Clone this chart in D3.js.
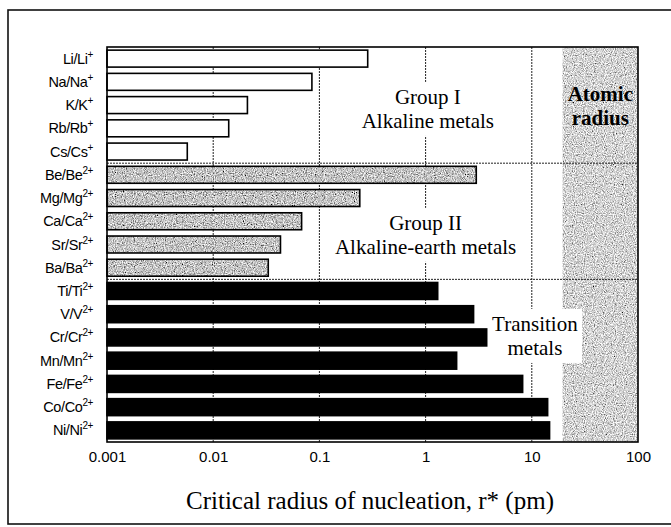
<!DOCTYPE html>
<html><head><meta charset="utf-8">
<script src="https://cdn.jsdelivr.net/npm/d3@7"></script>
<style>html,body{margin:0;padding:0;background:#fff;}svg{display:block;}</style>
</head><body>
<script>
const categories = ["Li/Li","Na/Na","K/K","Rb/Rb","Cs/Cs","Be/Be","Mg/Mg","Ca/Ca","Sr/Sr","Ba/Ba","Ti/Ti","V/V","Cr/Cr","Mn/Mn","Fe/Fe","Co/Co","Ni/Ni"];
const charges = ["+","+","+","+","+","2+","2+","2+","2+","2+","2+","2+","2+","2+","2+","2+","2+"];
const values = [0.285,0.085,0.021,0.014,0.0057,3.0,0.24,0.068,0.043,0.033,1.30,2.83,3.76,1.96,8.2,14.1,14.7];
const groups = ["I","I","I","I","I","II","II","II","II","II","T","T","T","T","T","T","T"];
const tickValues = [0.001,0.01,0.1,1,10,100];
const tickLabels = ["0.001","0.01","0.1","1","10","100"];
const atomicRange = [19.5,100];
const groupAnnotations = [
  {lines:["Group I","Alkaline metals"], x:1.05, band:2.45},
  {lines:["Group II","Alkaline-earth metals"], x:1.0, band:7.87},
  {lines:["Transition","metals"], x:10.7, band:12.22}
];
const atomicLabel = ["Atomic","radius"];
const xTitle = "Critical radius of nucleation, r* (pm)";

const W=671,H=527;
const svg=d3.select("body").append("svg").attr("width",W).attr("height",H);
const defs=svg.append("defs");
function noiseFilter(id,gain,offset,freq){
  const f=defs.append("filter").attr("id",id).attr("x",0).attr("y",0).attr("width",1).attr("height",1);
  f.append("feTurbulence").attr("type","fractalNoise").attr("baseFrequency",freq).attr("numOctaves",2).attr("seed",3).attr("result","n");
  f.append("feColorMatrix").attr("in","n").attr("type","matrix")
    .attr("values",`${gain} 0 0 0 ${offset}  ${gain} 0 0 0 ${offset}  ${gain} 0 0 0 ${offset}  0 0 0 0 1`).attr("result","g");
  f.append("feComposite").attr("in","g").attr("in2","SourceGraphic").attr("operator","in");
}
noiseFilter("nz1",1.7,-0.2,0.9);
noiseFilter("nz2",1.7,-0.3,0.9);

const L=107,R=638,T=47,B=442;
const x=d3.scaleLog().domain([0.001,100]).range([L,R]);
const y=d3.scaleBand().domain(categories).range([T,B]).paddingInner(0.27).paddingOuter(0.135);
const yb=d3.scaleBand().domain(categories).range([T,B]);

// outer frame
svg.append("rect").attr("x",8).attr("y",10).attr("width",700).attr("height",514)
  .attr("fill","none").attr("stroke","#111").attr("stroke-width",1.6);

// atomic radius region
svg.append("rect").attr("x",x(atomicRange[0])).attr("y",T).attr("width",x(atomicRange[1])-x(atomicRange[0])).attr("height",B-T)
  .attr("fill","#b4b4b4").attr("filter","url(#nz1)");

// gridlines
svg.append("g").selectAll("line").data(tickValues.slice(1,-1)).join("line")
  .attr("x1",d=>x(d)).attr("x2",d=>x(d)).attr("y1",T).attr("y2",B)
  .attr("stroke","#222").attr("stroke-width",1).attr("stroke-dasharray","2,1");

// group separators
[5,10].forEach(i=>{
  const yy=yb(categories[i]);
  svg.append("line").attr("x1",L).attr("x2",R).attr("y1",yy).attr("y2",yy)
    .attr("stroke","#222").attr("stroke-width",1).attr("stroke-dasharray","2,1");
});

// annotations: white box behind, drawn under bars
const boxLayer=svg.append("g");
const barLayer=svg.append("g");
const textLayer=svg.append("g");
function annot(lines,cx,cy,bold,box){
  const t=textLayer.append("text").attr("text-anchor","middle")
    .attr("font-family","'Liberation Serif','Times New Roman',serif").attr("font-size",21)
    .attr("font-weight",bold?"bold":"normal").attr("fill","#000");
  lines.forEach((s,k)=>t.append("tspan").attr("x",cx).attr("y",cy+k*24).text(s));
  if(box){const bb=t.node().getBBox();
    boxLayer.append("rect").attr("fill","#fff").attr("x",bb.x-4).attr("y",bb.y-3).attr("width",bb.width+8).attr("height",bb.height+6);}
}
groupAnnotations.forEach(a=>{
  annot(a.lines,x(a.x),T+a.band*yb.step(),false,true);
});
annot(atomicLabel,(x(atomicRange[0])+R)/2,101,true,false);

// bars
barLayer.selectAll("rect.f").data(categories).join("rect").attr("class","f")
  .attr("x",L).attr("y",d=>y(d)).attr("height",y.bandwidth())
  .attr("width",(d,i)=>x(values[i])-L)
  .attr("fill",(d,i)=>groups[i]==="I"?"#fff":groups[i]==="II"?"#a4a4a4":"#000")
  .attr("filter",(d,i)=>groups[i]==="II"?"url(#nz2)":null);
barLayer.selectAll("rect.s").data(categories).join("rect").attr("class","s")
  .attr("x",L).attr("y",d=>y(d)).attr("height",y.bandwidth())
  .attr("width",(d,i)=>x(values[i])-L)
  .attr("fill","none").attr("stroke","#000").attr("stroke-width",1.6);

// plot frame
svg.append("rect").attr("x",L).attr("y",T).attr("width",R-L).attr("height",B-T)
  .attr("fill","none").attr("stroke","#000").attr("stroke-width",1.6);

// category labels
const lab=svg.append("g").selectAll("text").data(categories).join("text")
  .attr("x",L-14).attr("y",d=>y(d)+y.bandwidth()/2+5)
  .attr("text-anchor","end").attr("font-family","'Liberation Sans',Arial,sans-serif")
  .attr("font-size",14.5).attr("letter-spacing","-0.4").attr("fill","#000");
lab.append("tspan").text(d=>d);
lab.append("tspan").attr("font-size",10).attr("dy",-6).text((d,i)=>charges[i]);

// x axis labels
const xAxis=d3.axisBottom(x).tickValues(tickValues).tickFormat((d,i)=>tickLabels[i]).tickSize(0).tickPadding(9);
const ax=svg.append("g").attr("transform",`translate(0,${B})`).call(xAxis);
ax.select(".domain").remove();
ax.selectAll("text").attr("font-family","'Liberation Sans',Arial,sans-serif").attr("font-size",15).attr("fill","#000");

svg.append("text").attr("x",370).attr("y",509).attr("text-anchor","middle")
  .attr("font-family","'Liberation Serif','Times New Roman',serif").attr("font-size",25).attr("fill","#000").text(xTitle);
</script>
</body></html>
